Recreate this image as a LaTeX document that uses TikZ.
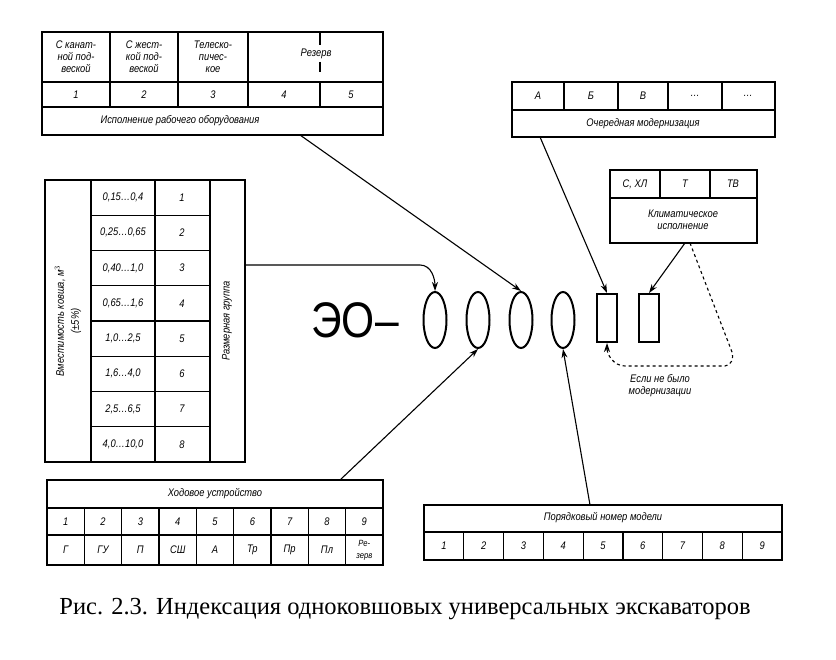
\documentclass[tikz,border=0pt]{standalone}
\usepackage{fontspec}
\setmainfont{Liberation Serif}
\newfontfamily\hand{Liberation Sans}[FakeStretch=0.85]
\usetikzlibrary{arrows.meta,shapes.geometric}
\begin{document}
\begin{tikzpicture}[x=1pt,y=-1pt,
  ln/.style={line width=1.6pt},
  thin/.style={line width=1.2pt},
  tx/.style={font=\hand\itshape\fontsize{11}{12}\selectfont, align=center, inner sep=0pt},
  arr/.style={line width=1.1pt,-{Stealth[length=9pt,width=6pt]}},
  oval/.style={draw,ellipse,line width=2pt,minimum width=23pt,minimum height=56pt,inner sep=0pt},
  box/.style={draw,rectangle,line width=2pt,minimum width=20pt,minimum height=48pt,inner sep=0pt}]
\useasboundingbox (0,0) rectangle (836,660);
\fill[white] (0,0) rectangle (836,660);
% top table
\draw[ln] (42,32) rectangle (383,135);
\draw[thin] (42,82)--(383,82) (42,107)--(383,107);
\foreach \x in {110,178,248} \draw[thin] (\x,32)--(\x,107);
\draw[thin] (320,82)--(320,107) (320,32)--(320,45) (320,62)--(320,72);
\node[tx] (t1) at (76,57) {С канат-\\ной под-\\веской};
\node[tx] (t2) at (144,57) {С жест-\\кой под-\\веской};
\node[tx] (t3) at (213,57) {Телеско-\\пичес-\\кое};
\node[tx] (t4) at (316,54) {Резерв};
\foreach \x/\t in {76/1,144/2,213/3,284/4,351/5} \node[tx] at (\x,95) {\t};
\node[tx] (ttop) at (180,121) {Исполнение рабочего оборудования};
\coordinate (tA) at (300,135);
% left table
\draw[ln] (45,180) rectangle (245,462);
\foreach \x in {91,155,210} \draw[thin] (\x,180)--(\x,462);
\foreach \i in {1,...,7} \draw[thin] (91,180+\i*35.25)--(210,180+\i*35.25);
\foreach \i/\a/\b in {0/{0,15\dots0,4}/1,1/{0,25\dots0,65}/2,2/{0,40\dots1,0}/3,3/{0,65\dots1,6}/4,4/{1,0\dots2,5}/5,5/{1,6\dots4,0}/6,6/{2,5\dots6,5}/7,7/{4,0\dots10,0}/8}{
  \node[tx] at (123,197.6+\i*35.25) {\a};
  \node[tx] at (182,197.6+\i*35.25) {\b};}
\node[tx,rotate=90] (lv) at (68,321) {Вместимость ковша, м$^3$\\[3pt](±5\%)};
\node[tx,rotate=90] (lg) at (227,321) {Размерная группа};
\coordinate (lA) at (245,265);
% main index
\node[font=\hand\fontsize{50}{50}\selectfont,inner sep=0pt] (eo) at (355,320) {ЭО–};
\node[oval] (o1) at (435,320) {};
\node[oval] (o2) at (478,320) {};
\node[oval] (o3) at (521,320) {};
\node[oval] (o4) at (563,320) {};
\node[box] (b1) at (607,318) {};
\node[box] (b2) at (649,318) {};
\draw[arr] (lA) -- (420,265) to[out=0,in=90] (o1.north);
\draw[arr] (tA) -- (o3.north);
% top right tables
\draw[ln] (512,82) rectangle (775,137);
\draw[thin] (512,110)--(775,110);
\foreach \x in {564,618,668,722} \draw[thin] (\x,82)--(\x,110);
\foreach \x/\t in {538/А,591/Б,643/В,695/\dots,748/\dots} \node[tx] at (\x,96) {\t};
\node[tx] (mod) at (643,124) {Очередная модернизация};
\draw[arr] (540,137) -- (b1.north);
\draw[ln] (610,170) rectangle (757,243);
\draw[thin] (610,198)--(757,198);
\foreach \x in {660,710} \draw[thin] (\x,170)--(\x,198);
\foreach \x/\t in {635/{С, ХЛ},685/Т,733/ТВ} \node[tx] at (\x,184) {\t};
\node[tx] (kl) at (683,220) {Климатическое\\исполнение};
\draw[arr] (685,243) -- (b2.north);
\draw[line width=1.1pt,dashed,-{Stealth[length=9pt,width=6pt]}] (690,243) -- (732,352) to[out=-70,in=0] (725,366) -- (625,366) to[out=180,in=-90] (b1.south);
\node[tx] (esl) at (660,386) {Если не было\\модернизации};
% bottom left table
\draw[ln] (47,480) rectangle (383,565);
\draw[thin] (47,508)--(383,508) (47,535)--(383,535);
\foreach \i in {1,...,8} \draw[thin] (47+\i*37.33,508)--(47+\i*37.33,565);
\node[tx] (hod) at (215,494) {Ходовое устройство};
\foreach \i/\a/\b in {0/1/Г,1/2/ГУ,2/3/П,3/4/СШ,4/5/А,5/6/Тр,6/7/Пр,7/8/Пл,8/9/{\fontsize{9}{9}\selectfont Ре-\\\fontsize{9}{9}\selectfont зерв}}{
  \node[tx] at (65.7+\i*37.33,521.5) {\a};
  \node[tx] at (65.7+\i*37.33,550) {\b};}
\draw[arr] (340,480) -- (o2.south);
% bottom right table
\draw[ln] (424,505) rectangle (782,560);
\draw[thin] (424,532)--(782,532);
\foreach \i in {1,...,8} \draw[thin] (424+\i*39.78,532)--(424+\i*39.78,560);
\node[tx] (por) at (603,518) {Порядковый номер модели};
\foreach \i in {1,...,9} \node[tx] at (404.1+\i*39.78,546) {\i};
\draw[arr] (590,505) -- (o4.south);
% caption
\node[font=\fontsize{24.5}{26}\selectfont,inner sep=0pt] (cap) at (405,609) {Рис. 2.3. Индексация одноковшовых универсальных экскаваторов};
\end{tikzpicture}
\end{document}
